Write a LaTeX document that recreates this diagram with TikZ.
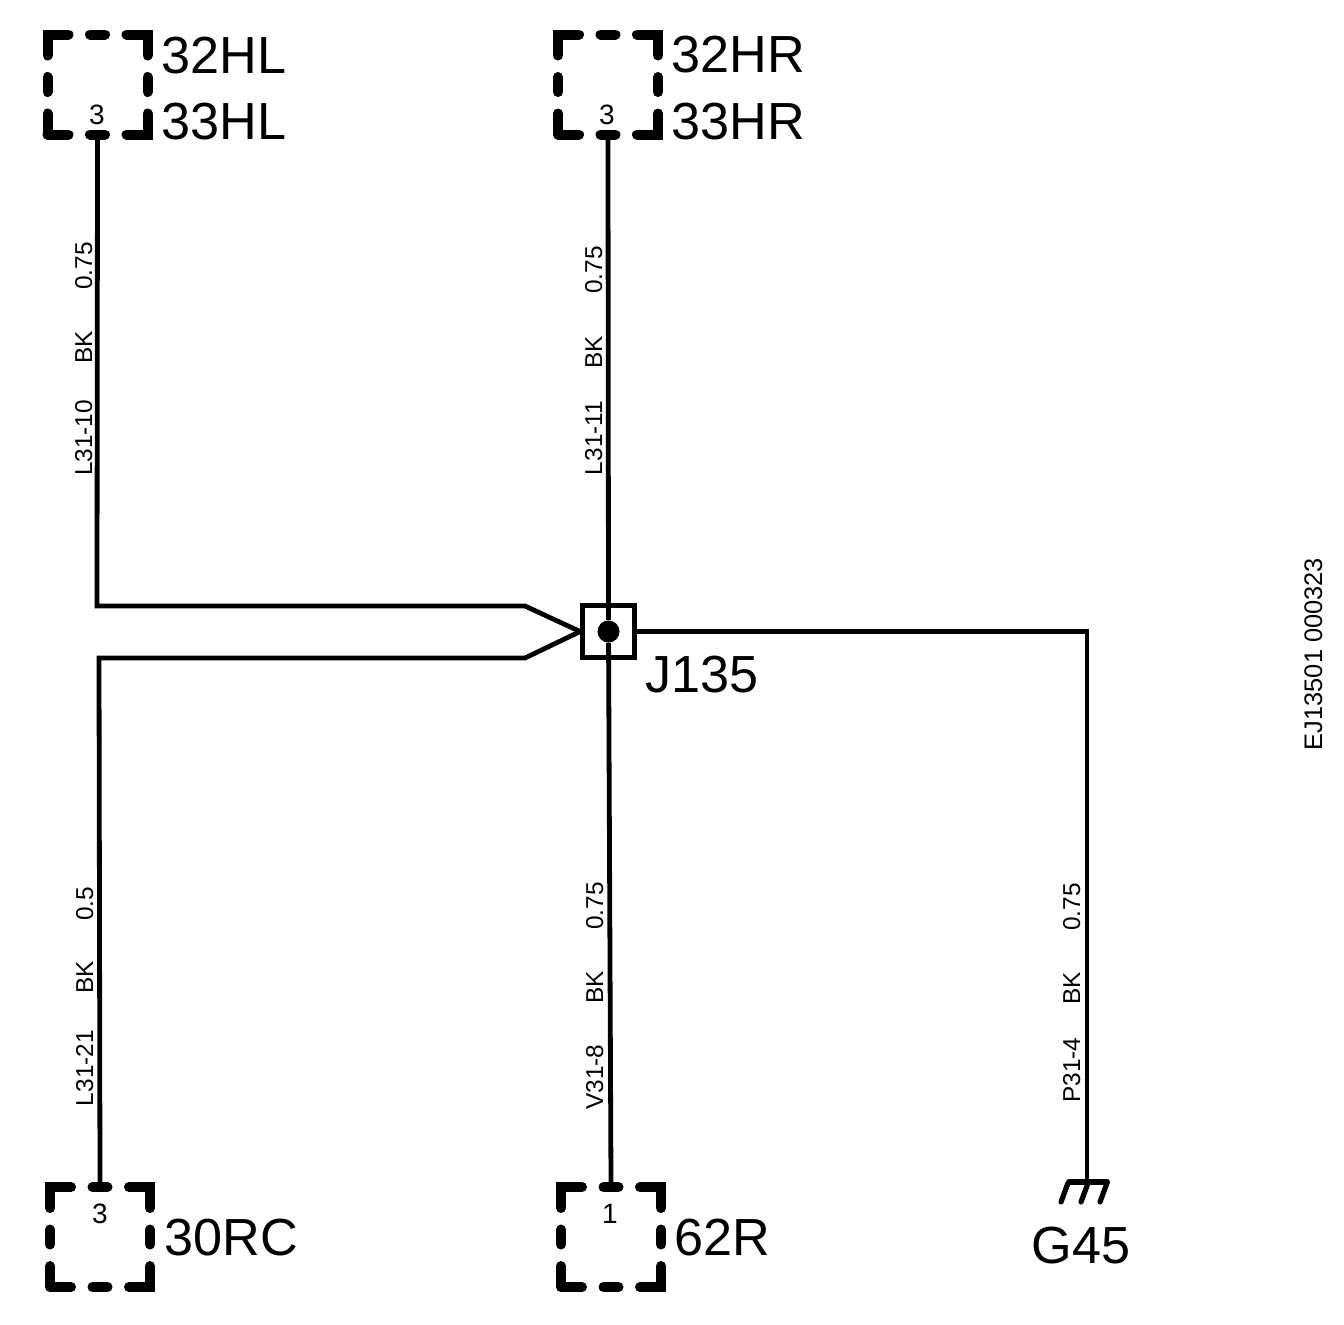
\documentclass[tikz,border=0pt]{standalone}
\usepackage{fontspec}
\setmainfont{Liberation Sans}
\usetikzlibrary{positioning}
\tikzstyle{conn}=[draw=black, rectangle, minimum size=50pt, inner sep=0pt, line width=5pt, line cap=round, dash pattern=on 21pt off 10.75pt on 7.5pt off 10.75pt, dash phase=10.5pt]
\tikzstyle{wire}=[line width=2.4pt]
\tikzstyle{tagl}=[anchor=base west, inner sep=0pt, font=\fontsize{26.1pt}{26.1pt}\selectfont]
\tikzstyle{pinl}=[anchor=base, inner sep=0pt, font=\fontsize{14pt}{14pt}\selectfont]
\tikzstyle{lab}=[anchor=base, rotate=90, inner sep=0pt, font=\fontsize{12.2pt}{12.2pt}\selectfont]

\begin{document}
\begin{tikzpicture}[x=0.5pt, y=-0.5pt]
    \path[fill=white, use as bounding box] (0,0) rectangle (1344,1324);

    % connectors
    \node[conn] at (97.5,84.5) (c1) {};
    \node[conn] at (608,84.5) (c2) {};
    \node[conn] at (100,1237) (c3) {};
    \node[conn] at (611,1237) (c4) {};
    \node[pinl] at (97,124) (p1) {3};
    \node[pinl] at (607,124) (p2) {3};
    \node[pinl] at (100,1223) (p3) {3};
    \node[pinl] at (610,1223) (p4) {1};

    % splice
    \node[draw=black, rectangle, minimum size=26pt, inner sep=0pt, line width=2.4pt] at (608.5,631.5) (j) {};
    \node[circle, fill=black, minimum size=11pt, inner sep=0pt] at (608.5,631.5) (jd) {};
    \coordinate (b1) at (97,606);
    \coordinate (b2) at (525,606);
    \coordinate (b3) at (99,658);
    \coordinate (b4) at (525,658);
    \coordinate (b5) at (1087,631.5);
    \coordinate (g) at (1087,1182);

    \draw[wire] (c1.south) -- (b1) -- (b2) -- (j.west);
    \draw[wire] (c3.north) -- (b3) -- (b4) -- (j.west);
    \draw[wire] (c2.south) -- (jd);
    \draw[wire] (jd) -- (c4.north);
    \draw[wire] (j.east) -- (b5) -- (g);

    % ground
    \draw[line width=3pt, line cap=round] (1069,1182) -- (g) -- (1107,1182);
    \foreach \x in {1068,1088,1107} {
        \draw[line width=2.6pt, line cap=round] (\x,1183) -- (\x-7,1202);
    }

    \node[tagl] at (161,73) (n1) {32HL};
    \node[tagl] at (161,139) (n2) {33HL};
    \node[tagl] at (671,72) (n3) {32HR};
    \node[tagl] at (671,139) (n4) {33HR};
    \node[tagl] at (645,692) (n5) {J135};
    \node[tagl] at (164,1255) (n6) {30RC};
    \node[tagl] at (674,1255) (n7) {62R};
    \node[tagl] at (1031,1263) (n8) {G45};

    \node[lab] at (92,266) (l1) {0.75};
    \node[lab] at (92,347) (l2) {BK};
    \node[lab] at (92,438) (l3) {L31-10};
    \node[lab] at (602,270) (l4) {0.75};
    \node[lab] at (602,352) (l5) {BK};
    \node[lab] at (602,438) (l6) {L31-11};
    \node[lab] at (93,904) (l7) {0.5};
    \node[lab] at (93,977) (l8) {BK};
    \node[lab] at (93,1068) (l9) {L31-21};
    \node[lab] at (603,906) (l10) {0.75};
    \node[lab] at (603,987) (l11) {BK};
    \node[lab] at (603,1077) (l12) {V31-8};
    \node[lab] at (1080,907) (l13) {0.75};
    \node[lab] at (1080,988) (l14) {BK};
    \node[lab] at (1080,1070) (l15) {P31-4};
    \node[lab, font=\fontsize{12.7pt}{12.7pt}\selectfont] at (1322,654) (l16) {EJ13501 000323};
\end{tikzpicture}
\end{document}
